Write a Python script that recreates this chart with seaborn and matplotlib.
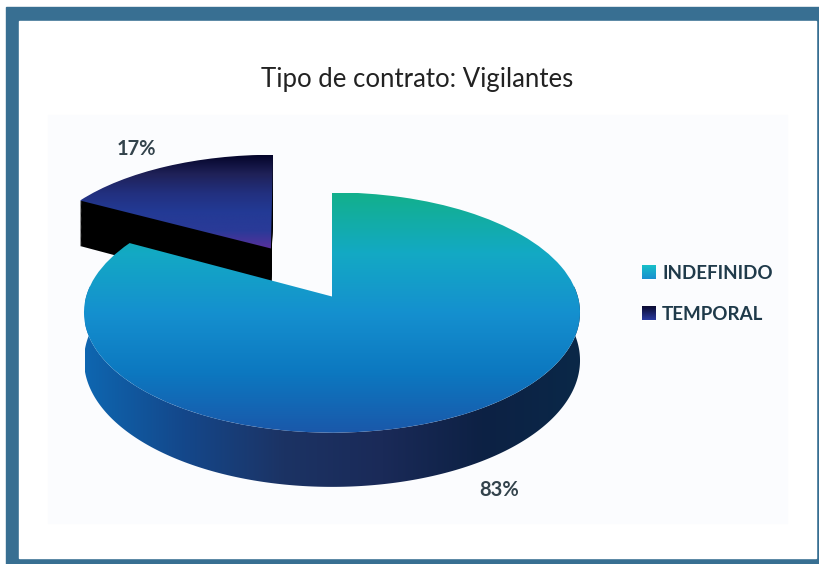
import numpy as np
import matplotlib
matplotlib.use("Agg")
import matplotlib.pyplot as plt
import seaborn as sns
from matplotlib.patches import Patch, Polygon, Rectangle
from matplotlib.transforms import Transform

categorias = ["INDEFINIDO", "TEMPORAL"]
valores = [83, 17]
separacion = [0, 0.5]
titulo = "Tipo de contrato: Vigilantes"

# colores de los degradados (arriba -> abajo, izquierda -> derecha)
grad_grande = ["#12b08c", "#13a9c4", "#1590cf", "#0c78c0", "#1a58aa"]
grad_chico = ["#04052a", "#1f2158", "#22307f", "#233a95", "#2a3a98", "#5c2f9c"]
grad_lado = ["#0e66b0", "#14478a", "#1c3364", "#1a2a58", "#0d2144", "#0a2848"]
grad_leyenda = [["#17c0c8", "#1a8fd0"], ["#0a0a30", "#2a3aa0"]]

sns.set_theme(style="white")
plt.rcParams["font.family"] = ["Lato", "DejaVu Sans"]


class Perspectiva(Transform):
    # lleva el disco unidad a pixeles de la figura, con la parte de atras mas chica
    input_dims = 2
    output_dims = 2

    def __init__(self, bajada=0, corte=0):
        super().__init__()
        self.bajada = bajada
        self.corte = corte

    def transform_non_affine(self, values):
        values = np.asarray(values)
        w = 1 + 0.1333 * values[:, 1]
        px = 332 + 245.8 * values[:, 0] / w - self.corte * values[:, 1]
        py = 296.5 + (self.bajada - 118 * values[:, 1]) / w
        return np.column_stack([px, py])


def torta(ax, bajada=0, corte=0):
    wedges, _ = ax.pie(valores, explode=separacion, startangle=90, counterclock=False,
                       colors=["none", "none"], wedgeprops={"linewidth": 0})
    for w in wedges:
        w.set_transform(Perspectiva(bajada, corte) + ax.transData)
    return wedges


def degradado(ax, colores, clip, extent, horizontal=False):
    cmap = sns.blend_palette(colores, as_cmap=True)
    grad = np.linspace(0, 1, 256)
    grad = grad[None, :] if horizontal else grad[:, None]
    im = ax.imshow(grad, cmap=cmap, extent=extent, aspect="auto", origin="upper",
                   interpolation="bilinear")
    if clip is not None:
        im.set_clip_path(clip)
    return im


fig = plt.figure(figsize=(8.19, 5.64), dpi=100)
ax = fig.add_axes([0, 0, 1, 1])

# marco y fondo
ax.add_patch(Rectangle((6, 7), 813, 557, color="#386f92", zorder=-3))
ax.add_patch(Rectangle((19, 21), 797, 537, color="white", zorder=-2))
ax.add_patch(Rectangle((48, 115), 739, 408, color="#fbfcfe", zorder=-1))

# porcion separada: lado negro y luego la cara
for bajada in np.arange(1, 52):
    cuna = torta(ax, bajada, 4.5)
    cuna[0].remove()
    cuna[1].set_facecolor("black")
    cuna[1].set_zorder(1)

cara = torta(ax, 0, 4.5)
degradado(ax, grad_chico, cara[1], (70, 280, 250, 155)).set_zorder(2)
cara[0].remove()

# lado de la porcion grande
t = np.radians(np.linspace(-185, 5, 300))
borde = np.column_stack([np.cos(t), np.sin(t)])
arriba = Perspectiva(0).transform(borde)
abajo = Perspectiva(47).transform(borde)
lado = Polygon(np.vstack([arriba, abajo[::-1]]), closed=True, facecolor="none", edgecolor="none")
ax.add_patch(lado)
degradado(ax, grad_lado, lado, (85, 582, 500, 250), horizontal=True).set_zorder(3)

# cara de la porcion grande
cara2 = torta(ax)
degradado(ax, grad_grande, cara2[0], (80, 590, 433, 193)).set_zorder(4)
cara2[1].remove()

ax.set_aspect("auto")
ax.set_xlim(0, 819)
ax.set_ylim(564, 0)
ax.axis("off")

ax.text(417, 79, titulo, ha="center", va="center", fontsize=18.5, color="#222222", zorder=6)
ax.text(136, 149, f"{valores[1]}%", ha="center", va="center", fontsize=14.5,
        fontweight="bold", color="#33434c", zorder=6)
ax.text(499, 490, f"{valores[0]}%", ha="center", va="center", fontsize=14.5,
        fontweight="bold", color="#33434c", zorder=6)

handles = [Patch(facecolor=grad_leyenda[i][0], label=categorias[i]) for i in range(len(categorias))]
leg = ax.legend(handles=handles, loc="center left", bbox_to_anchor=(642 / 819, 1 - 294 / 564),
                frameon=False, fontsize=13.5, handlelength=0.7, handleheight=0.7,
                handletextpad=0.38, labelspacing=1.33, borderpad=0, borderaxespad=0)
for txt in leg.get_texts():
    txt.set_fontweight("bold")
    txt.set_color("#1f3a4a")

# degradado encima de cada cuadrito de la leyenda
fig.canvas.draw()
for h, cols in zip(leg.legend_handles, grad_leyenda):
    bb = h.get_window_extent().transformed(ax.transData.inverted())
    degradado(ax, cols, None, (bb.x0, bb.x1, max(bb.y0, bb.y1), min(bb.y0, bb.y1))).set_zorder(7)

ax.set_xlim(0, 819)
ax.set_ylim(564, 0)
ax.set_aspect("auto")
fig.savefig("out.png", dpi=100)
